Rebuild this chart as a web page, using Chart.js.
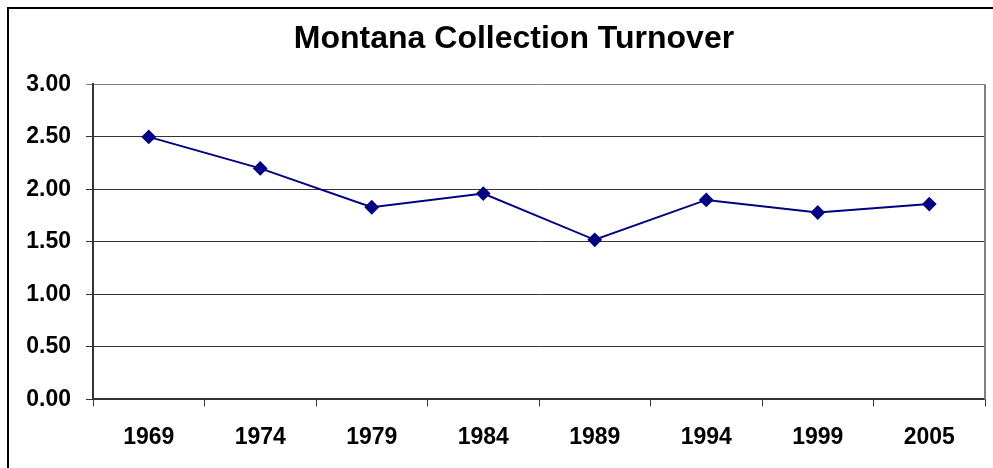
<!DOCTYPE html>
<html>
<head>
<meta charset="utf-8">
<script src="https://cdn.jsdelivr.net/npm/chart.js@4"></script>
<style>
  html, body { margin: 0; padding: 0; background: #fff; }
  #wrap { position: relative; width: 993px; height: 468px; }
</style>
</head>
<body>
<div id="wrap"><canvas id="turnover-chart" width="993" height="468"></canvas></div>
<script>
// values
const years = ['1969', '1974', '1979', '1984', '1989', '1994', '1999', '2005'];
const turnover = [2.50, 2.20, 1.83, 1.96, 1.52, 1.90, 1.78, 1.86];
const yTicks = [0, 0.5, 1, 1.5, 2, 2.5, 3];

const navy = '#000080';
const boldFont = 'Liberation Sans, Arial, sans-serif';

// outer frame, gray right edge of the plot area, title nudged right like the original
const frame = {
  id: 'frame',
  afterLayout(chart) {
    if (chart.titleBlock) {
      chart.titleBlock.left += 21;
    }
  },
  beforeDraw(chart) {
    const c = chart.ctx;
    c.save();
    c.strokeStyle = '#000';
    c.lineWidth = 2;
    c.beginPath();
    c.moveTo(8, 468);
    c.lineTo(8, 8);
    c.lineTo(993, 8);
    c.stroke();
    c.restore();
  },
  afterDraw(chart) {
    const a = chart.chartArea;
    const c = chart.ctx;
    c.save();
    c.strokeStyle = '#808080';
    c.lineWidth = 2;
    c.beginPath();
    c.moveTo(a.right, a.top);
    c.lineTo(a.right, a.bottom);
    c.stroke();
    c.restore();
  }
};

var ctx = document.getElementById('turnover-chart').getContext('2d');
var turnoverChart = new Chart(ctx, {
  type: 'line',
  data: {
    labels: years,
    datasets: [{
      label: 'Turnover',
      data: turnover,
      borderColor: navy,
      backgroundColor: navy,
      borderWidth: 2,
      pointStyle: 'rectRot',
      pointRadius: 6,
      pointHoverRadius: 6,
      pointBackgroundColor: navy,
      pointBorderColor: navy,
      fill: false,
      tension: 0
    }]
  },
  options: {
    responsive: false,
    animation: false,
    layout: { padding: { left: 20, right: 6, top: 0, bottom: 0 } },
    plugins: {
      legend: { display: false },
      tooltip: { enabled: false },
      title: {
        display: true,
        text: 'Montana Collection Turnover',
        color: '#000',
        font: { family: boldFont, size: 32, weight: 'bold' },
        padding: { top: 20, bottom: 26 }
      }
    },
    scales: {
      x: {
        offset: true,
        grid: {
          offset: true,
          drawOnChartArea: false,
          drawTicks: true,
          tickLength: 7,
          color: '#333',
          lineWidth: 1
        },
        border: { color: '#333', width: 2 },
        ticks: {
          color: '#000',
          padding: 17,
          maxRotation: 0,
          font: { family: boldFont, size: 23, weight: 'bold' }
        }
      },
      y: {
        min: 0,
        max: 3,
        afterFit: (scale) => { scale.width = 73; },
        afterBuildTicks: (scale) => { scale.ticks = yTicks.map(v => ({ value: v })); },
        grid: {
          tickLength: 7,
          color: (c) => (c.tick && c.tick.value === 3 ? '#808080' : '#333'),
          lineWidth: 1
        },
        border: { color: '#333', width: 2 },
        ticks: {
          color: '#000',
          padding: 15,
          font: { family: boldFont, size: 23, weight: 'bold' },
          callback: (v) => Number(v).toFixed(2)
        }
      }
    }
  },
  plugins: [frame]
});
</script>
</body>
</html>
